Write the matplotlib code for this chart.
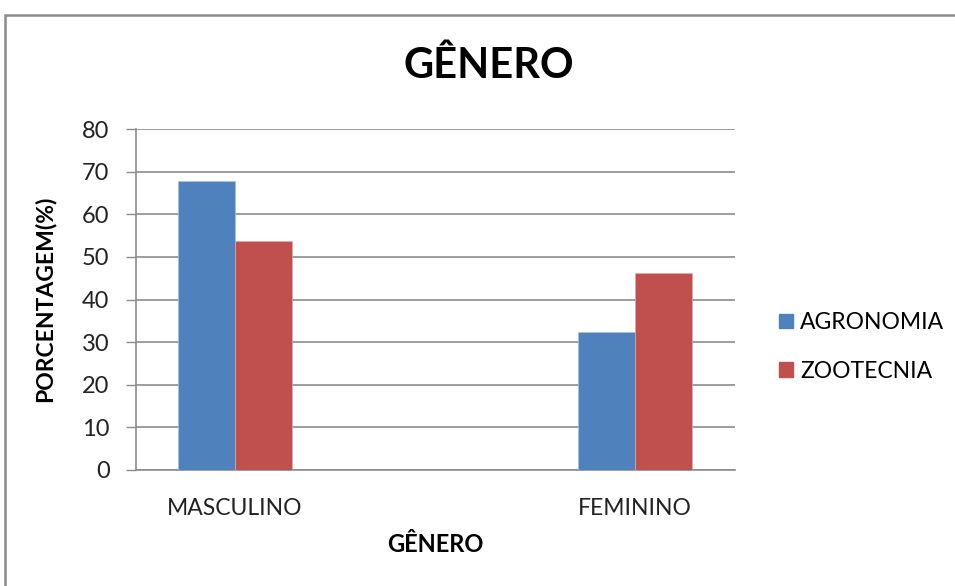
import matplotlib
matplotlib.use("Agg")
import matplotlib.pyplot as plt
from matplotlib.patches import Rectangle, Patch
import numpy as np

categories = ["MASCULINO", "FEMININO"]
agronomia = [67.7, 32.3]
zootecnia = [53.8, 46.2]
series_names = ["AGRONOMIA", "ZOOTECNIA"]
yticks = [0, 10, 20, 30, 40, 50, 60, 70, 80]

plt.rcParams["font.family"] = ["Lato", "DejaVu Sans"]

fig = plt.figure(figsize=(9.55, 5.86), dpi=100)
fig.patch.set_facecolor("white")

# chart frame
fig.patches.append(Rectangle((5 / 955, -0.1), 1.2, (586 - 15) / 586 + 0.1,
                             transform=fig.transFigure, fill=False,
                             edgecolor="#8c8c8c", linewidth=1.8))

ax = fig.add_axes([136 / 955, (586 - 470) / 586, (735 - 136) / 955, (470 - 129) / 586])

x = np.arange(len(categories))
w = 0.1425
c_blue = "#4F81BD"
c_red = "#C0504D"
ax.bar(x - w / 2, agronomia, width=w, color=c_blue, edgecolor="#a9c0e0", linewidth=0.5, zorder=3)
ax.bar(x + w / 2, zootecnia, width=w, color=c_red, edgecolor="#e0a9a7", linewidth=0.5, zorder=3)

ax.set_xlim(-0.2475, 1.25)
ax.set_ylim(0, 80)
ax.set_yticks(yticks)
ax.set_yticklabels([str(v) for v in yticks], fontsize=17, color="#222222")
ax.set_xticks(x)
ax.set_xticklabels(categories, fontsize=16.5, color="#222222")
ax.tick_params(axis="x", length=0, pad=20)
ax.tick_params(axis="y", length=7, width=1, color="#8c8c8c", pad=12)
ax.yaxis.grid(True, color="#8c8c8c", linewidth=1.2, zorder=0)
ax.set_axisbelow(True)
for s in ["top", "right"]:
    ax.spines[s].set_visible(False)
ax.spines["left"].set_color("#8c8c8c")
ax.spines["bottom"].set_color("#8c8c8c")
ax.spines["left"].set_linewidth(1.2)
ax.spines["bottom"].set_linewidth(1.2)

fig.text(489 / 955, 1 - 66 / 586, "GÊNERO", fontsize=30, fontweight="bold",
         ha="center", va="center", color="black")
fig.text(435 / 955, 1 - 545 / 586, "GÊNERO", fontsize=17, fontweight="bold",
         ha="center", va="center", color="black")
fig.text(45 / 955, 1 - 299 / 586, "PORCENTAGEM(%)", fontsize=16.5, fontweight="bold",
         ha="center", va="center", rotation=90, color="black")

handles = [Patch(facecolor=c_blue, edgecolor=c_blue), Patch(facecolor=c_red, edgecolor=c_red)]
fig.legend(handles, series_names, loc="center left",
           bbox_to_anchor=(768 / 955, 1 - 347 / 586), frameon=False,
           fontsize=16.5, handlelength=0.6, handleheight=0.6, handletextpad=0.3,
           labelspacing=1.2, borderpad=0)

fig.savefig("out.png", dpi=100, facecolor="white")
